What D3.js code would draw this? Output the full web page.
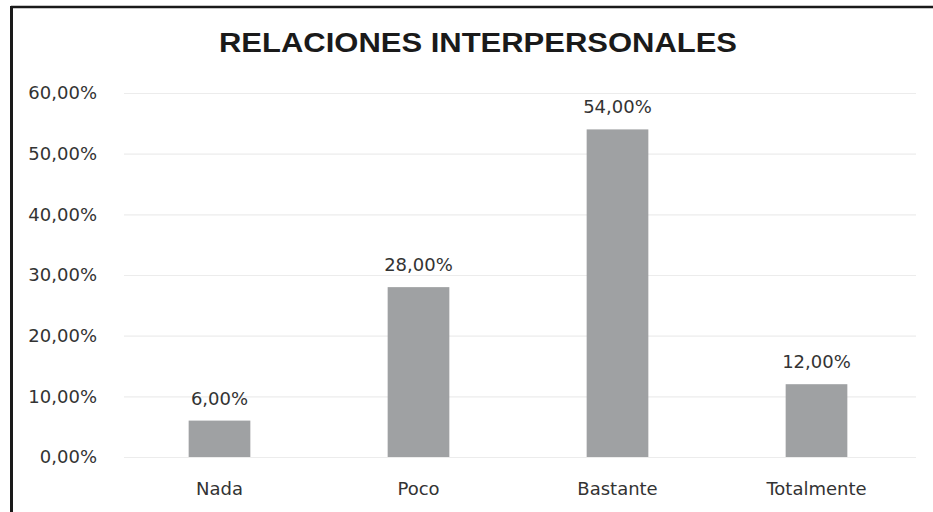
<!DOCTYPE html>
<html><head><meta charset="utf-8">
<script src="https://cdn.jsdelivr.net/npm/d3@7"></script>
<style>html,body{margin:0;padding:0;background:#fff;}svg{display:block;}</style>
</head><body>
<svg id="c" width="933" height="512"></svg>
<script>
const categories = ["Nada", "Poco", "Bastante", "Totalmente"];
const values = [6, 28, 54, 12];
const yTicks = [0, 10, 20, 30, 40, 50, 60];
const title = "RELACIONES INTERPERSONALES";

const svg = d3.select("#c");
const W = 933, H = 512;
const m = {left: 120, right: 17, top: 93, bottom: 55};
const fmt = v => d3.format(".2f")(v).replace(".", ",") + "%";
const FONT = "'DejaVu Sans', sans-serif";
const FS = 18;

svg.append("rect").attr("width", W).attr("height", H).attr("fill", "#fff");
// frame
svg.append("line").attr("x1", 11).attr("x2", W).attr("y1", 7).attr("y2", 7).attr("stroke", "#1a1a1a").attr("stroke-width", 2.5);
svg.append("line").attr("x1", 11.5).attr("x2", 11.5).attr("y1", 6).attr("y2", H).attr("stroke", "#1a1a1a").attr("stroke-width", 3);

const x = d3.scaleBand().domain(categories).range([m.left, W - m.right]).paddingInner(0.69).paddingOuter(0.345);
const y = d3.scaleLinear().domain([0, 60]).range([H - m.bottom, m.top]);

// grid
svg.append("g").selectAll("line").data(yTicks).join("line")
  .attr("x1", 124).attr("x2", W - m.right)
  .attr("y1", d => y(d) + 0.5).attr("y2", d => y(d) + 0.5)
  .attr("stroke", "#ececec").attr("stroke-width", 1.2);

const ya = svg.append("g").attr("transform", `translate(97,0)`)
  .call(d3.axisLeft(y).tickValues(yTicks).tickFormat(fmt).tickSize(0).tickPadding(0));
ya.select(".domain").remove();
ya.selectAll("text").attr("font-family", FONT).attr("font-size", FS).attr("fill", "#333");

svg.append("g").selectAll("rect").data(values).join("rect")
  .attr("x", (d, i) => x(categories[i])).attr("width", x.bandwidth())
  .attr("y", d => y(d)).attr("height", d => y(0) - y(d))
  .attr("fill", "#9fa1a3");

svg.append("g").selectAll("text").data(values).join("text")
  .attr("x", (d, i) => x(categories[i]) + x.bandwidth() / 2)
  .attr("y", d => y(d) - 16)
  .attr("text-anchor", "middle")
  .attr("font-family", FONT).attr("font-size", FS).attr("fill", "#333")
  .text(d => fmt(d));

const xa = svg.append("g").attr("transform", `translate(0,${H - m.bottom})`)
  .call(d3.axisBottom(x).tickSize(0).tickPadding(25));
xa.select(".domain").remove();
xa.selectAll("text").attr("font-family", FONT).attr("font-size", FS).attr("fill", "#333");

svg.append("text").attr("x", 478).attr("y", 52).attr("text-anchor", "middle")
  .attr("font-family", "'Liberation Sans', Arial, sans-serif").attr("font-weight", "bold")
  .attr("font-size", 27).attr("fill", "#1a1a1a")
  .attr("textLength", 518).attr("lengthAdjust", "spacingAndGlyphs")
  .text(title);
</script>
</body></html>
